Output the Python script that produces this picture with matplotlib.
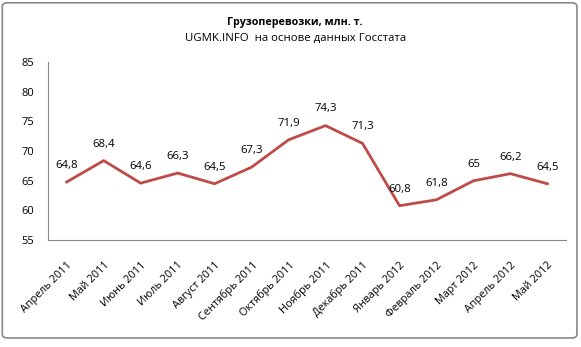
import matplotlib.pyplot as plt
from matplotlib.patches import FancyBboxPatch

plt.rcParams["font.family"] = ["Open Sans", "DejaVu Sans"]

months = ["Апрель 2011", "Май 2011", "Июнь 2011", "Июль 2011", "Август 2011",
          "Сентябрь 2011", "Октябрь 2011", "Ноябрь 2011", "Декабрь 2011",
          "Январь 2012", "Февраль 2012", "Март 2012", "Апрель 2012", "Май 2012"]
values = [64.8, 68.4, 64.6, 66.3, 64.5, 67.3, 71.9, 74.3, 71.3, 60.8, 61.8, 65, 66.2, 64.5]
yticks = [55, 60, 65, 70, 75, 80, 85]

fig = plt.figure(figsize=(5.81, 3.47), dpi=100)
ax = fig.add_axes([0.083, 0.308, 0.891, 0.513])

x = list(range(len(months)))
ax.plot(x, values, color="#BE4B48", linewidth=2.0)

for xi, v in zip(x, values):
    label = f"{v:g}".replace(".", ",")
    ax.annotate(label, (xi, v), xytext=(0, 8), textcoords="offset points",
                ha="center", va="bottom", fontsize=8.2)

ax.set_xlim(-0.5, len(months) - 0.5)
ax.set_ylim(55, 85)
ax.set_yticks(yticks)
ax.set_xticks(x)
ax.set_xticklabels(months, rotation=45, ha="right", rotation_mode="anchor", fontsize=7.8)
ax.tick_params(axis="y", labelsize=8, length=0, pad=10)
ax.tick_params(axis="x", length=0, pad=14)

for side in ["top", "right"]:
    ax.spines[side].set_visible(False)
ax.spines["left"].set_color("#888888")
ax.spines["bottom"].set_color("#888888")

fig.text(0.508, 0.935, "Грузоперевозки, млн. т.", ha="center", va="center",
         fontsize=7.7, fontweight="bold")
fig.text(0.508, 0.888, "UGMK.INFO  на основе данных Госстата", ha="center", va="center",
         fontsize=8.2)

frame = FancyBboxPatch((0.004, 0.026), 0.989, 0.966, boxstyle="round,pad=0,rounding_size=0.01",
                       transform=fig.transFigure, fill=False, edgecolor="#888888", linewidth=1.2)
fig.patches.append(frame)

fig.savefig("out.png", dpi=100)
